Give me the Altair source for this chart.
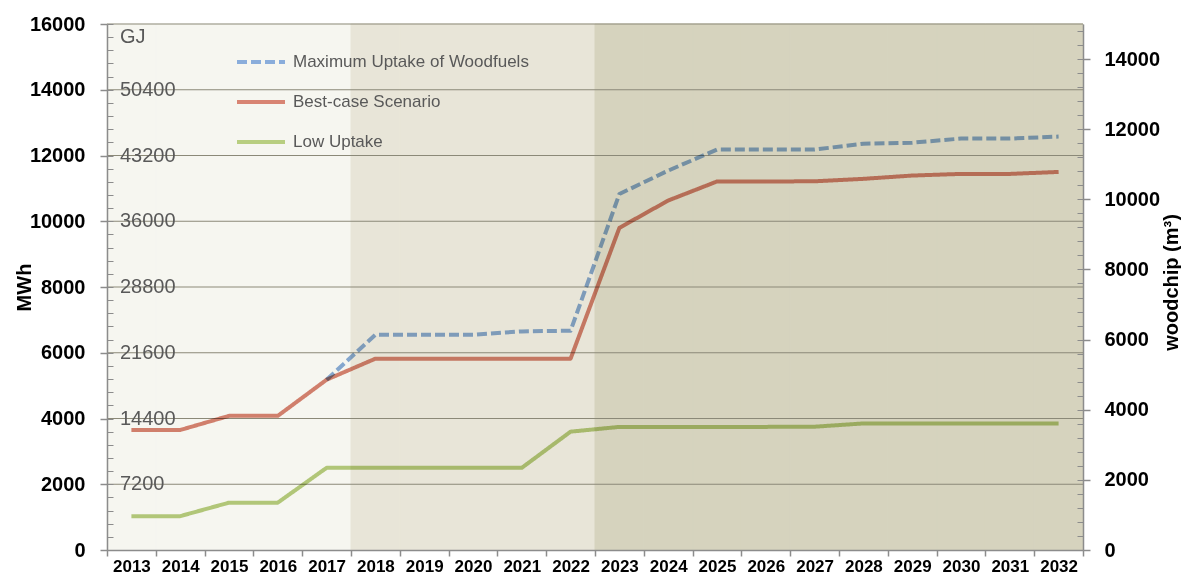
import altair as alt
import pandas as pd

# ---------------- data ----------------
years = list(range(2013, 2033))
max_uptake = [None, None, None, None, 5180, 6550, 6550, 6550, 6650, 6670,
              10830, 11540, 12180, 12180, 12180, 12360, 12390, 12515, 12515, 12575]
best_case = [3650, 3650, 4080, 4080, 5180, 5820, 5820, 5820, 5820, 5820,
             9800, 10630, 11210, 11210, 11215, 11290, 11390, 11440, 11440, 11500]
low_uptake = [1030, 1030, 1440, 1440, 2500, 2500, 2500, 2500, 2500, 3600,
              3745, 3745, 3745, 3745, 3750, 3850, 3850, 3850, 3850, 3850]

series_names = ["Maximum Uptake of Woodfuels", "Best-case Scenario", "Low Uptake"]
series_colors = ["#8AADDB", "#D88473", "#B8CE80"]
series_dash = [[10, 4], [1, 0], [1, 0]]

period_of_year = ["early"] * 5 + ["mid"] * 5 + ["late"] * 10
period_names = ["early", "mid", "late"]
period_colors = ["#F6F6F0", "#E8E5D8", "#D6D3BE"]

left_ticks = [0, 2000, 4000, 6000, 8000, 10000, 12000, 14000, 16000]
grid_mwh = [2000, 4000, 6000, 8000, 10000, 12000, 14000, 16000]
gj_mwh = [2000, 4000, 6000, 8000, 10000, 12000, 14000]
gj_labels = ["7200", "14400", "21600", "28800", "36000", "43200", "50400"]
gj_unit = ["GJ"]
right_ticks = [0, 2000, 4000, 6000, 8000, 10000, 12000, 14000]
minor_left = list(range(0, 16001, 400))
minor_right = list(range(0, 15001, 400))

# ---------------- tables ----------------
rows = []
for name, vals in zip(series_names, [max_uptake, best_case, low_uptake]):
    for y, v in zip(years, vals):
        if v is not None:
            rows.append({"year": y, "series": name, "mwh": v})
lines_df = pd.DataFrame(rows)
bg_df = pd.DataFrame({"year": years, "period": period_of_year})
grid_df = pd.DataFrame({"mwh": grid_mwh})
gj_df = pd.DataFrame({"mwh": gj_mwh, "label": gj_labels})
unit_df = pd.DataFrame({"unit": gj_unit})

W, H = 976, 526
AXIS_GRAY = "#8C8C8C"
FONT = "Liberation Sans"

left_scale = alt.Scale(domain=[0, 16000], nice=False, zero=True)
left_axis = alt.Axis(
    title="MWh", values=left_ticks, format="d", grid=False, tickSize=7,
    tickWidth=1.5, tickColor=AXIS_GRAY, domainColor=AXIS_GRAY, domainWidth=1.5,
    labelFontSize=20, labelFontWeight="bold", labelColor="black", labelPadding=15,
    labelFont=FONT, titleFont=FONT, titleFontSize=20, titleFontWeight="bold",
    titleColor="black", titleAngle=270, titleX=-77, titleY=263,
    titleBaseline="alphabetic", titleAlign="center", zindex=1,
)
x_enc = alt.X(
    "year:O",
    scale=alt.Scale(domain=years, paddingInner=0, paddingOuter=0),
    axis=alt.Axis(
        title=None, labelAngle=0, tickBand="extent", tickSize=6, tickWidth=1.5,
        tickColor=AXIS_GRAY, domainColor=AXIS_GRAY, domainWidth=1.5,
        labelFontSize=17, labelFontWeight="bold", labelColor="black",
        labelPadding=2, grid=False, zindex=1, labelFont=FONT,
    ),
)

bg = alt.Chart(bg_df).mark_rect(strokeWidth=1).encode(
    x=x_enc,
    y=alt.Y(datum=16000, scale=left_scale, axis=left_axis),
    y2=alt.Y2(datum=0),
    fill=alt.Fill("period:N", scale=alt.Scale(domain=period_names, range=period_colors), legend=None),
    stroke=alt.Stroke("period:N", scale=alt.Scale(domain=period_names, range=period_colors), legend=None),
)

grid = alt.Chart(grid_df).mark_rule(color="#8B8978", strokeWidth=1.2).encode(
    y=alt.Y("mwh:Q", scale=left_scale, axis=left_axis)
)

gj_text = alt.Chart(gj_df).mark_text(
    align="left", baseline="alphabetic", dy=6, fontSize=20, color="#595959", font=FONT
).encode(
    x=alt.value(13),
    y=alt.Y("mwh:Q", scale=left_scale, axis=left_axis),
    text="label:N",
)

gj_unit_text = alt.Chart(unit_df).mark_text(
    align="left", baseline="alphabetic", dy=19, fontSize=20, color="#595959", font=FONT
).encode(
    x=alt.value(13),
    y=alt.Y(datum=16000, scale=left_scale, axis=left_axis),
    text="unit:N",
)

legend = alt.Legend(
    title=None, orient="none", legendX=128, legendY=12, direction="vertical",
    symbolType="stroke", symbolSize=2304, symbolStrokeWidth=4,
    labelFontSize=17, labelColor="#595959", labelFont=FONT, labelOffset=6,
    labelLimit=400, rowPadding=6, padding=0,
)

lines = alt.Chart(lines_df).mark_line(
    strokeWidth=4, blend="multiply", strokeJoin="round"
).encode(
    x=x_enc,
    y=alt.Y("mwh:Q", scale=left_scale, axis=left_axis),
    color=alt.Color("series:N", scale=alt.Scale(domain=series_names, range=series_colors), legend=legend),
    strokeDash=alt.StrokeDash("series:N", scale=alt.Scale(domain=series_names, range=series_dash), legend=legend),
)

main = alt.layer(bg, grid, gj_text, gj_unit_text, lines)

right = alt.Chart(pd.DataFrame({"w": right_ticks})).mark_point(opacity=0).encode(
    y=alt.Y(
        "w:Q", scale=alt.Scale(domain=[0, 15000], nice=False, zero=True),
        axis=alt.Axis(
            orient="right", title="woodchip (m³)", values=right_ticks, format="d",
            grid=False, tickSize=7, tickWidth=1.5, tickColor=AXIS_GRAY,
            domainColor=AXIS_GRAY, domainWidth=1.5, labelFontSize=20,
            labelFontWeight="bold", labelColor="black", labelPadding=14, labelFont=FONT,
            titleFont=FONT, titleFontSize=20, titleFontWeight="bold", titleColor="black",
            titleAngle=270, titleX=94, titleY=258, titleBaseline="alphabetic",
            titleAlign="center", zindex=1,
        ),
    )
)

minor_l = alt.Chart(pd.DataFrame({"m": minor_left})).mark_point(opacity=0).encode(
    y=alt.Y(
        "m:Q", scale=alt.Scale(domain=[0, 16000], nice=False, zero=True),
        axis=alt.Axis(orient="left", offset=-6, values=minor_left, labels=False,
                      domain=False, grid=False, tickSize=6, tickWidth=1,
                      tickColor=AXIS_GRAY, title=None, zindex=1),
    )
)

minor_r = alt.Chart(pd.DataFrame({"m": minor_right})).mark_point(opacity=0).encode(
    y=alt.Y(
        "m:Q", scale=alt.Scale(domain=[0, 15000], nice=False, zero=True),
        axis=alt.Axis(orient="right", offset=-6, values=minor_right, labels=False,
                      domain=False, grid=False, tickSize=6, tickWidth=1,
                      tickColor=AXIS_GRAY, title=None, zindex=1),
    )
)

chart = alt.layer(main, right, minor_l, minor_r).resolve_scale(
    y="independent"
).properties(
    width=W, height=H,
    autosize=alt.AutoSizeParams(type="none"),
    padding={"left": 99, "top": 16, "right": 98, "bottom": 25},
).configure_view(stroke=None).configure(font=FONT)

chart.save("out.html", embed_options={"renderer": "svg", "actions": False})
